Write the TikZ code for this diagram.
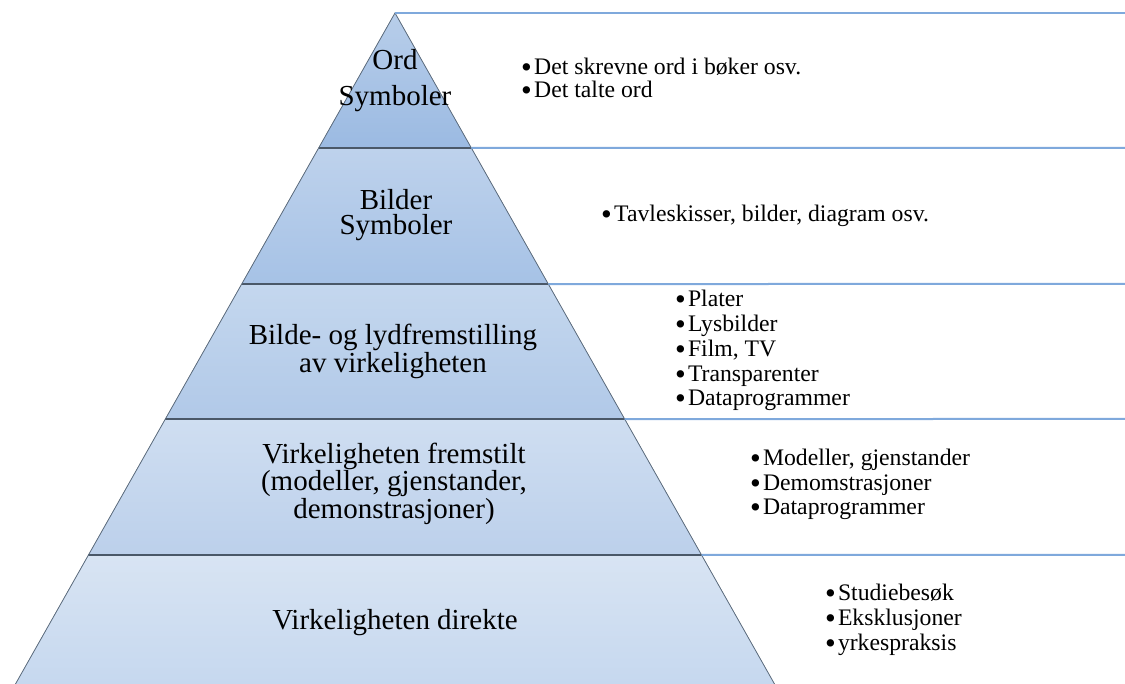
\documentclass[tikz,border=0pt]{standalone}
\usepackage{fontspec}
\setmainfont{Liberation Serif}
\usetikzlibrary{calc,shadings}
\definecolor{tA}{HTML}{B8CEEA}
\definecolor{bA}{HTML}{9BBAE2}
\definecolor{tB}{HTML}{BED2EC}
\definecolor{bB}{HTML}{A6C2E6}
\definecolor{tC}{HTML}{C4D7EE}
\definecolor{bC}{HTML}{B1C9E8}
\definecolor{tD}{HTML}{CFDEF1}
\definecolor{bD}{HTML}{BCD0EB}
\definecolor{tE}{HTML}{D8E4F3}
\definecolor{bE}{HTML}{C6D8EF}
\definecolor{divgray}{HTML}{4A5868}
\definecolor{edgegray}{HTML}{5E6E80}
\definecolor{lineblue}{HTML}{7FA9DC}
\newcommand\bul{\makebox[13pt][l]{\smash{\raisebox{-3pt}{\fontsize{30.7}{0}\selectfont •}}}}
\begin{document}
\begin{tikzpicture}[x=1pt,y=1pt,
  divline/.style={draw=divgray, line width=1.1pt},
  edgeline/.style={draw=edgegray, line width=0.8pt},
  bluel/.style={draw=lineblue, line width=2pt},
  plabel/.style={inner sep=0pt, anchor=base, align=center},
  blist/.style={inner sep=0pt, anchor=base west, align=left, font=\fontsize{23.7}{24.8}\selectfont}]
\useasboundingbox (0,0) rectangle (1125,684);
% pyramid corners
\coordinate (apex) at (395,671);
\coordinate (bl) at (15.5,0);
\coordinate (br) at (774.5,0);
\coordinate (l1) at ($(apex)!0.2012!(bl)$);
\coordinate (r1) at ($(apex)!0.2012!(br)$);
\coordinate (l2) at ($(apex)!0.4039!(bl)$);
\coordinate (r2) at ($(apex)!0.4039!(br)$);
\coordinate (l3) at ($(apex)!0.6051!(bl)$);
\coordinate (r3) at ($(apex)!0.6051!(br)$);
\coordinate (l4) at ($(apex)!0.8077!(bl)$);
\coordinate (r4) at ($(apex)!0.8077!(br)$);
% line ends on the right
\coordinate (e0) at (1125,671);
\coordinate (e1) at (1125,536);
\coordinate (e2) at (1125,400);
\coordinate (e3) at (1125,265);
\coordinate (e4) at (1125,129);
% level fills
\fill[top color=tA, bottom color=bA] (apex) -- (r1) -- (l1) -- cycle;
\fill[top color=tB, bottom color=bB] (l1) -- (r1) -- (r2) -- (l2) -- cycle;
\fill[top color=tC, bottom color=bC] (l2) -- (r2) -- (r3) -- (l3) -- cycle;
\fill[top color=tD, bottom color=bD] (l3) -- (r3) -- (r4) -- (l4) -- cycle;
\fill[top color=tE, bottom color=bE] (l4) -- (r4) -- (br) -- (bl) -- cycle;
% dividers and edges
\draw[divline] (l1) -- (r1);
\draw[divline] (l2) -- (r2);
\draw[divline] (l3) -- (r3);
\draw[divline] (l4) -- (r4);
\draw[edgeline] (bl) -- (apex) -- (br);
% blue lines
\draw[bluel] (apex) -- (e0);
\draw[bluel] (r1) -- (e1);
\draw[bluel] (r2) -- (e2);
\draw[bluel] (r3) -- (e3);
\draw[bluel] (r4) -- (e4);
% pyramid labels (anchor = baseline of last line)
\node[plabel, font=\fontsize{29}{36}\selectfont] (p1) at (395,578) {Ord\\Symboler};
\node[plabel, font=\fontsize{29}{25}\selectfont] (p2) at (396,449) {Bilder\\Symboler};
\node[plabel, font=\fontsize{29}{27.7}\selectfont] (p3) at (393,311.3) {Bilde- og lydfremstilling\\av virkeligheten};
\node[plabel, font=\fontsize{29}{26}\selectfont] (p4) at (394,165.7) {Virkeligheten fremstilt\\(modeller, gjenstander,\\demonstrasjoner)};
\node[plabel, font=\fontsize{29}{26}\selectfont] (p5) at (395,54) {Virkeligheten direkte};
% bullet lists (anchor = baseline of last line)
\node[blist, font=\fontsize{23.7}{22.5}\selectfont] (b1) at (521,586.5) {\bul Det skrevne ord i bøker osv.\\\bul Det talte ord};
\node[blist] (b2) at (601,462.3) {\bul Tavleskisser, bilder, diagram osv.};
\node[blist] (b3) at (674.8,278) {\bul Plater\\\bul Lysbilder\\\bul Film, TV\\\bul Transparenter\\\bul Dataprogrammer};
\node[blist] (b4) at (749.8,169) {\bul Modeller, gjenstander\\\bul Demomstrasjoner\\\bul Dataprogrammer};
\node[blist] (b5) at (824.8,33.4) {\bul Studiebesøk\\\bul Eksklusjoner\\\bul yrkespraksis};
\end{tikzpicture}
\end{document}
